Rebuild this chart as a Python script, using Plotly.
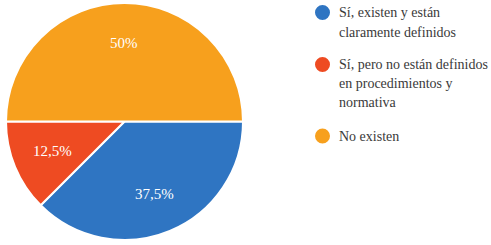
import math
import plotly.graph_objects as go

labels = ["Sí, existen y están<br>claramente definidos",
          "Sí, pero no están definidos<br>en procedimientos y<br>normativa",
          "No existen"]
values = [37.5, 12.5, 50]
slice_text = ["37,5%", "12,5%", "50%"]
colors = ["#2f75c2", "#ee4b22", "#f7a01d"]

SERIF = "Liberation Serif, Times New Roman, serif"
W, H = 491, 245
PX0, PX1, PY0, PY1 = 6, 243, 3, 240   # pie box in pixels
fig = go.Figure()
fig.add_trace(go.Pie(
    values=values, textinfo="none",
    sort=False, direction="clockwise", rotation=90,
    marker=dict(colors=colors, line=dict(color="white", width=2)),
    domain=dict(x=[PX0/W, PX1/W], y=[1-PY1/H, 1-PY0/H]),
    showlegend=False,
))

# slice labels placed along each slice's mid-angle
cxp, cyp = (PX0 + PX1)/2, (PY0 + PY1)/2
R = (PX1 - PX0)/2
total = sum(values)
start = 0.0
for v, t in zip(values, slice_text):
    mid = (start + v/2)/total*2*math.pi   # clockwise from 3 o'clock
    start += v
    px = cxp + 0.66*R*math.cos(mid)
    py = cyp + 0.66*R*math.sin(mid)
    fig.add_annotation(xref="paper", yref="paper", x=px/W, y=1-py/H,
                       xanchor="center", yanchor="middle", showarrow=False, text=t,
                       font=dict(family=SERIF, size=15, color="white"))

# custom legend with circle markers, one annotation per text line
leg_lines_y = [[12.5, 32], [64.5, 83.5, 102.5], [136]]
cx, r = 322.5, 7.5
for lab, col, ys in zip(labels, colors, leg_lines_y):
    yy = ys[0]
    fig.add_shape(type="circle", xref="paper", yref="paper",
                  x0=(cx - r)/W, x1=(cx + r)/W, y0=1-(yy + r)/H, y1=1-(yy - r)/H,
                  fillcolor=col, line=dict(width=0))
    for line, ly in zip(lab.split("<br>"), ys):
        fig.add_annotation(xref="paper", yref="paper", x=337/W, y=1-ly/H,
                           xanchor="left", yanchor="middle", align="left", showarrow=False,
                           text=line, font=dict(family=SERIF, size=14, color="#3a3a3a"))

fig.update_layout(width=W, height=H, margin=dict(l=0, r=0, t=0, b=0),
                  font=dict(family=SERIF),
                  paper_bgcolor="white", plot_bgcolor="white")
fig.write_html("out.html", config={"displayModeBar": False},
               post_script="document.body.style.margin='0';")
